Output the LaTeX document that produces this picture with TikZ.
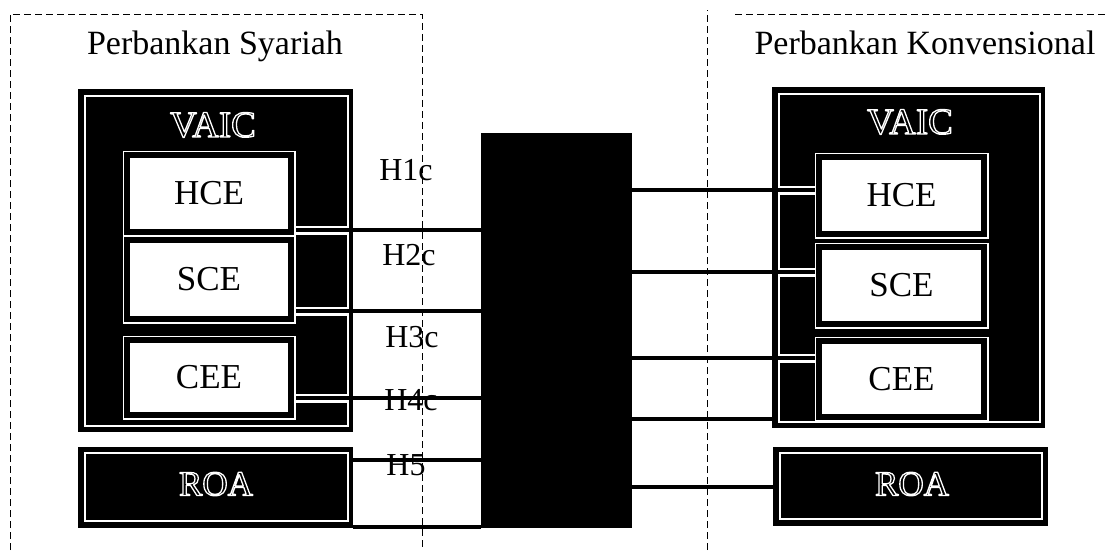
\documentclass[tikz,border=0pt]{standalone}
\usepackage{fontspec}
\setmainfont{Liberation Serif}
\usetikzlibrary{calc}
\newcommand{\hollowtext}[1]{\special{pdf:literal direct 1 Tr 1 1 1 RG 1.3 w 1 j}#1\special{pdf:literal direct 0 Tr}}
\begin{document}
\begin{tikzpicture}[x=1pt,y=1pt,
  blk/.style={fill=black,draw=none,inner sep=0pt,outer sep=0pt},
  sub/.style={fill=white,draw=black,line width=5.5pt,
    preaction={draw=white,line width=9pt},
    inner sep=0pt,outer sep=0pt,font=\fontsize{35}{40}\selectfont},
  wline/.style={draw=white,line width=1.5pt},
  band/.style={draw=white,line width=9pt},
  conn/.style={draw=black,line width=4pt},
  dashline/.style={draw=black,line width=0.8pt,dash pattern=on 7pt off 4pt},
  title/.style={font=\fontsize{34}{40}\selectfont,inner sep=0pt},
  hlab/.style={font=\fontsize{32}{36}\selectfont,inner sep=0pt},
  otext/.style={text=black,inner sep=0pt}]
\useasboundingbox (0,0) rectangle (1107,550);
\fill[white] (0,0) rectangle (1107,550);

% dashed frames
\draw[dashline] (10,0) -- (10,536) -- (422,536) -- (422,0);
\draw[dashline] (707,0) -- (707,540);
\draw[dashline] (735,536) -- (1107,536);

% titles
\node[title,anchor=base] (t1) at (215,495) {Perbankan Syariah};
\node[title,anchor=base] (t2) at (925,495) {Perbankan Konvensional};

% left VAIC and ROA
\node[blk,minimum width=275pt,minimum height=343pt] (vaicL) at (215.5,289.5) {};
\draw[wline] ($(vaicL.north west)+(7,-7)$) rectangle ($(vaicL.south east)+(-5,6)$);
\node[blk,minimum width=275pt,minimum height=81pt] (roaL) at (215.5,62.5) {};
\draw[wline] ($(roaL.north west)+(7,-6)$) rectangle ($(roaL.south east)+(-5,7)$);

% right VAIC and ROA
\node[blk,minimum width=273pt,minimum height=341pt] (vaicR) at (908.5,292.5) {};
\draw[wline] ($(vaicR.north west)+(7,-7)$) rectangle ($(vaicR.south east)+(-5,6)$);
\node[blk,minimum width=275pt,minimum height=79pt] (roaR) at (910.5,63.5) {};
\draw[wline] ($(roaR.north west)+(7,-6)$) rectangle ($(roaR.south east)+(-6,7)$);

% central black block
\node[blk,minimum width=151pt,minimum height=395pt] (big) at (556.5,219.5) {};

% inner box positions
\path node[minimum width=164pt,minimum height=77pt,inner sep=0pt,outer sep=0pt] (hceL) at (209,356.5) {}
      node[minimum width=164pt,minimum height=79pt,inner sep=0pt,outer sep=0pt] (sceL) at (209,270.5) {}
      node[minimum width=164pt,minimum height=75pt,inner sep=0pt,outer sep=0pt] (ceeL) at (209,172.5) {}
      node[minimum width=165pt,minimum height=77pt,inner sep=0pt,outer sep=0pt] (hceR) at (901.5,354.5) {}
      node[minimum width=165pt,minimum height=77pt,inner sep=0pt,outer sep=0pt] (sceR) at (901.5,264.5) {}
      node[minimum width=165pt,minimum height=76pt,inner sep=0pt,outer sep=0pt] (ceeR) at (901.5,171) {};

% connector points
\coordinate (a1) at ($(hceL.south east)+(0,2)$);
\coordinate (a2) at ($(sceL.south east)+(0,8)$);
\coordinate (a3) at ($(ceeL.south east)+(0,17)$);
\coordinate (a4) at ($(roaL.north east)+(0,-13)$);
\coordinate (a5) at ($(roaL.south east)+(0,1)$);
\coordinate (b1) at ($(hceR.west)+(0,5.5)$);
\coordinate (b2) at ($(sceR.west)+(0,13.5)$);
\coordinate (b3) at ($(ceeR.west)+(0,21)$);
\coordinate (b4) at ($(vaicR.south west)+(0,9)$);
\coordinate (b5) at (roaR.west);

% white bands inside VAIC
\draw[band,shorten >=5pt] (a1) -- (a1 -| vaicL.east);
\draw[band,shorten >=5pt] (a2) -- (a2 -| vaicL.east);
\draw[band,shorten >=5pt] (a3) -- (a3 -| vaicL.east);
\draw[band,shorten >=6pt] (b1) -- (b1 -| vaicR.west);
\draw[band,shorten >=6pt] (b2) -- (b2 -| vaicR.west);
\draw[band,shorten >=6pt] (b3) -- (b3 -| vaicR.west);

% connectors
\draw[conn] (a1) -- (a1 -| big.west);
\draw[conn] (a2) -- (a2 -| big.west);
\draw[conn] (a3) -- (a3 -| big.west);
\draw[conn] (a4) -- (a4 -| big.west);
\draw[conn] (a5) -- (a5 -| big.west);
\draw[conn] (big.east |- b1) -- (b1);
\draw[conn] (big.east |- b2) -- (b2);
\draw[conn] (big.east |- b3) -- (b3);
\draw[conn] (big.east |- b4) -- (b4);
\draw[conn] (big.east |- b5) -- (b5);

% inner boxes
\node[sub,minimum width=164pt,minimum height=77pt] at (hceL) {HCE};
\node[sub,minimum width=164pt,minimum height=79pt] at (sceL) {SCE};
\node[sub,minimum width=164pt,minimum height=75pt] at (ceeL) {CEE};
\node[sub,minimum width=165pt,minimum height=77pt] at (hceR) {HCE};
\node[sub,minimum width=165pt,minimum height=77pt] at (sceR) {SCE};
\node[sub,minimum width=165pt,minimum height=76pt] at (ceeR) {CEE};

% outlined labels
\node[otext,font=\fontsize{37}{40}\selectfont] (vtL) at (213,425) {\hollowtext{VAIC}};
\node[otext,font=\fontsize{37}{40}\selectfont] (vtR) at (910,428) {\hollowtext{VAIC}};
\node[otext,font=\fontsize{35}{40}\selectfont] (roatL) at (216,66) {\hollowtext{ROA}};
\node[otext,font=\fontsize{35}{40}\selectfont] (roatR) at (912,66) {\hollowtext{ROA}};

% hypothesis labels
\node[hlab] (h1) at (406,380) {H1c};
\node[hlab] (h2) at (409,295) {H2c};
\node[hlab] (h3) at (412,213) {H3c};
\node[hlab] (h4) at (411,150) {H4c};
\node[hlab] (h5) at (406,85) {H5};
\end{tikzpicture}
\end{document}
